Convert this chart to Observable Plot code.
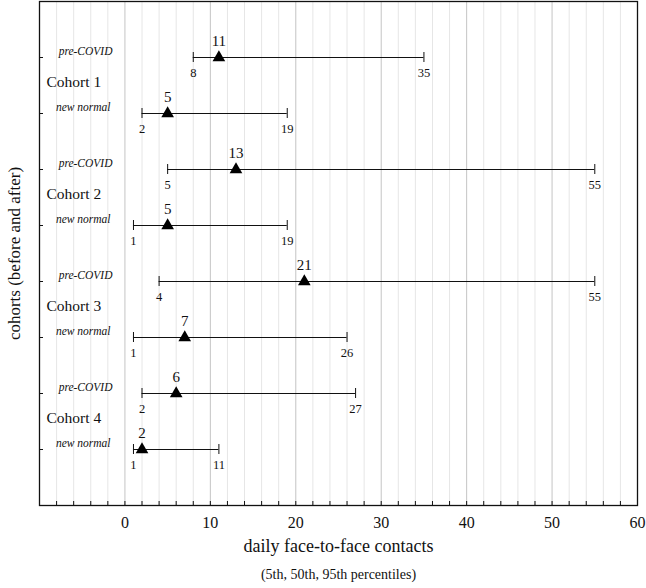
<!DOCTYPE html>
<html><head><meta charset="utf-8">
<script src="https://cdn.jsdelivr.net/npm/d3@7"></script>
<script src="https://cdn.jsdelivr.net/npm/@observablehq/plot@0.6"></script>
<style>body{margin:0;background:#fff} #chart svg{display:block}</style>
</head><body><div id="chart"></div>
<script>
const cohorts = ["Cohort 1", "Cohort 2", "Cohort 3", "Cohort 4"];
const periods = ["pre-COVID", "new normal"];
const p5  = [8, 2, 5, 1, 4, 1, 2, 1];
const p50 = [11, 5, 13, 5, 21, 7, 6, 2];
const p95 = [35, 19, 55, 19, 55, 26, 27, 11];
const xTickLabels = [0, 10, 20, 30, 40, 50, 60];
const xTitle = "daily face-to-face contacts";
const xSubtitle = "(5th, 50th, 95th percentiles)";
const yTitle = "cohorts (before and after)";

const rows = p50.map((d, i) => ({
  row: i + 1,
  cohort: cohorts[Math.floor(i / 2)],
  period: periods[i % 2],
  lo: p5[i], mid: d, hi: p95[i]
}));
const cohortRows = cohorts.map((c, j) => ({cohort: c, row: 2 * j + 1.5}));
const minorTicks = d3.range(-8, 60, 2);
const minorGrid = minorTicks.filter(d => d % 10 !== 0);
const majorGrid = xTickLabels.filter(d => d < 60);

const serif = "'Liberation Serif', 'Times New Roman', serif";
const ink = "#111";

const chart = Plot.plot({
  width: 646, height: 588,
  marginLeft: 39, marginRight: 9, marginTop: 1, marginBottom: 83,
  style: {fontFamily: serif, background: "#fff", color: ink},
  x: {domain: [-10, 60], axis: null},
  y: {domain: [0, 9], reverse: true, axis: null},
  marks: [
    Plot.ruleX(minorGrid, {x: d => d, stroke: "#e6e6e6", strokeWidth: 1}),
    Plot.ruleX(majorGrid, {x: d => d, stroke: "#c4c4c4", strokeWidth: 1}),
    Plot.ruleX(minorTicks, {x: d => d, y1: 9, y2: 9, insetTop: -4, stroke: ink}),
    Plot.ruleY(rows, {y: "row", x1: -10, x2: -10, insetRight: -4, stroke: ink}),
    Plot.frame({stroke: ink, strokeWidth: 1.3}),
    Plot.ruleY(rows, {y: "row", x1: "lo", x2: "hi", stroke: ink, strokeWidth: 1.2}),
    Plot.ruleX(rows, {x: "lo", y1: "row", y2: "row", insetTop: -5, insetBottom: -5, stroke: ink}),
    Plot.ruleX(rows, {x: "hi", y1: "row", y2: "row", insetTop: -5, insetBottom: -5, stroke: ink}),
    Plot.dot(rows, {x: "mid", y: "row", symbol: "triangle", r: 4.7, fill: "black", stroke: null}),
    Plot.text(rows, {x: "mid", y: "row", text: d => String(d.mid), dy: -16, fontSize: 15, fill: ink}),
    Plot.text(rows, {x: "lo", y: "row", text: d => String(d.lo), dy: 15, fontSize: 12.5, fill: ink}),
    Plot.text(rows, {x: "hi", y: "row", text: d => String(d.hi), dy: 15, fontSize: 12.5, fill: ink}),
    Plot.text(rows.filter(d => d.period === periods[0]), {x: -10, y: "row", text: "period", textAnchor: "end", dx: 73, dy: -6, fontStyle: "italic", fontSize: 11.5, fill: ink}),
    Plot.text(rows.filter(d => d.period === periods[1]), {x: -10, y: "row", text: "period", textAnchor: "end", dx: 71, dy: -6, fontStyle: "italic", fontSize: 11.5, fill: ink}),
    Plot.text(cohortRows, {x: -10, y: "row", text: "cohort", textAnchor: "start", dx: 7, dy: -3, fontSize: 15.5, fill: ink}),
    Plot.text(xTickLabels, {x: d => d, y: 9, text: d => String(d), dy: 17, fontSize: 16, fill: ink}),
    Plot.text([xTitle], {frameAnchor: "bottom", text: d => d, dy: 46, fontSize: 18, fill: ink}),
    Plot.text([xSubtitle], {frameAnchor: "bottom", text: d => d, dy: 73, fontSize: 14, fill: ink}),
    Plot.text([yTitle], {frameAnchor: "left", textAnchor: "middle", text: d => d, rotate: -90, dx: -25, fontSize: 17, fill: ink})
  ]
});
document.getElementById("chart").append(chart);
</script>
</body></html>
